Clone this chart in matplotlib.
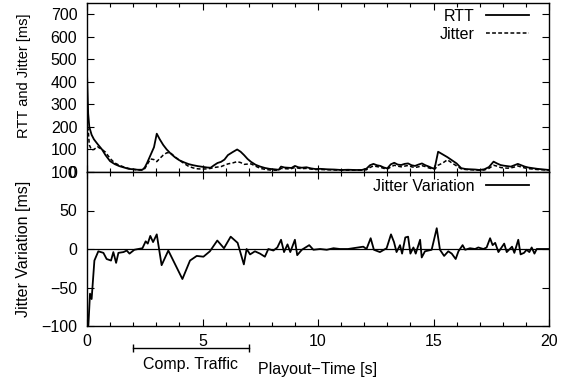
import matplotlib
matplotlib.use("Agg")
import matplotlib.pyplot as plt
from matplotlib.ticker import MultipleLocator
import matplotlib.transforms as mtransforms

plt.rcParams['font.family'] = ['Liberation Sans', 'DejaVu Sans']
plt.rcParams['font.size'] = 11.5
plt.rcParams['axes.unicode_minus'] = True

# ---------------- data ----------------
time_s = [0, 0.05, 0.1, 0.2, 0.3, 0.45, 0.65, 0.8, 1.0, 1.2, 1.4, 1.6, 1.8, 2.0, 2.2, 2.4,
          2.5, 2.6, 2.75, 2.9, 3.02, 3.15, 3.3, 3.45, 3.6, 3.8, 4.0, 4.2, 4.4, 4.6, 4.8,
          5.0, 5.2, 5.35, 5.5, 5.65, 5.8, 5.95, 6.1, 6.3, 6.5, 6.65, 6.8, 6.95, 7.1, 7.3,
          7.5, 7.7, 7.9, 8.1, 8.3, 8.4, 8.55, 8.7, 8.85, 9.0, 9.15, 9.3, 9.5, 9.7, 9.9,
          10.1, 10.4, 10.7, 11.0, 11.3, 11.6, 11.9, 12.1, 12.25, 12.4, 12.55, 12.7, 12.85,
          13.0, 13.15, 13.3, 13.45, 13.6, 13.75, 13.9, 14.05, 14.2, 14.35, 14.5, 14.65,
          14.8, 14.95, 15.05, 15.2, 15.4, 15.6, 15.8, 16.0, 16.2, 16.4, 16.6, 16.8, 17.0,
          17.2, 17.4, 17.6, 17.75, 17.9, 18.05, 18.2, 18.35, 18.5, 18.65, 18.8, 18.95,
          19.1, 19.3, 19.5, 19.7, 19.9, 20.0]

rtt_ms = [440, 260, 200, 165, 145, 125, 100, 75, 48, 35, 26, 20, 14, 12, 10, 10,
          20, 40, 75, 110, 170, 145, 120, 100, 84, 66, 52, 43, 35, 30, 26,
          23, 20, 19, 30, 40, 45, 55, 75, 88, 100, 90, 75, 58, 45, 32,
          24, 18, 14, 12, 10, 24, 20, 19, 18, 27, 21, 19, 21, 16, 13,
          14, 12, 11, 9, 10, 9, 9, 15, 30, 36, 30, 27, 20,
          16, 34, 41, 33, 31, 36, 38, 30, 27, 33, 38, 30,
          24, 17, 16, 90, 78, 66, 52, 38, 17, 13, 12, 11, 9,
          12, 22, 46, 38, 31, 28, 26, 24, 30, 36, 30, 24,
          20, 17, 14, 12, 10, 9]

jitter_ms = [200, 190, 120, 98, 100, 112, 100, 88, 60, 40, 30, 22, 16, 12, 9, 8,
             15, 32, 58, 55, 46, 60, 75, 85, 86, 68, 52, 38, 25, 18, 14,
             13, 14, 16, 20, 22, 24, 30, 36, 40, 46, 42, 34, 35, 36, 26,
             16, 12, 9, 8, 8, 16, 15, 14, 15, 20, 17, 15, 16, 13, 11,
             11, 10, 9, 8, 8, 8, 8, 10, 20, 27, 24, 21, 16,
             13, 22, 30, 26, 23, 26, 29, 23, 20, 23, 28, 24,
             18, 14, 12, 30, 40, 54, 40, 27, 14, 11, 10, 9, 8,
             9, 16, 30, 26, 20, 18, 17, 18, 22, 27, 22, 18,
             15, 13, 11, 10, 9, 8]

var_time_s = [0, 0.06, 0.13, 0.2, 0.32, 0.49, 0.71, 0.85, 1.04, 1.14, 1.26, 1.36, 1.58,
              1.72, 1.84, 2.05, 2.22, 2.4, 2.54, 2.63, 2.74, 2.86, 3.02, 3.23, 3.52,
              4.13, 4.46, 4.75, 5.04, 5.32, 5.64, 5.93, 6.22, 6.52, 6.79, 6.91, 7.06,
              7.27, 7.49, 7.7, 7.85, 8.07, 8.24, 8.4, 8.53, 8.68, 8.8, 9.0, 9.1, 9.3,
              9.62, 9.8, 10.09, 10.38, 10.67, 10.95, 11.3, 11.96, 12.1, 12.28, 12.42,
              12.68, 12.97, 13.16, 13.29, 13.4, 13.55, 13.64, 13.78, 13.9, 14.0, 14.13,
              14.23, 14.42, 14.49, 14.63, 14.92, 15.14, 15.28, 15.46, 15.64, 15.79,
              15.96, 16.08, 16.26, 16.37, 16.58, 16.8, 16.94, 17.16, 17.3, 17.45, 17.56,
              17.67, 17.81, 18.06, 18.17, 18.4, 18.5, 18.67, 18.77, 18.92, 19.03, 19.15,
              19.25, 19.37, 19.47, 19.69, 20.0]

var_ms = [-100, -99, -58, -65, -15, -3, -5, -13, -15, -4, -18, -5, -4,
          -2, -6, -1, 0, 1, 10, 7, 17, 9, 19, -21, -2,
          -39, -15, -9, -10, -3, 11, 1, 16, 8, -20, 0, -7,
          -3, -6, -10, 0, -2, 2, 12, -4, 6, -4, 12, -8, -1,
          5, -1, 0, -1, 1, 0, 0, 3, 0, 14, -1,
          -4, 1, 19, 9, -4, 5, -6, 15, 16, -6, 2,
          -6, 12, -11, -3, -1, 27, -1, -9, -3, -6,
          -13, -3, 5, -1, 1, 0, 2, 0, 2, 14, 5,
          8, -4, 7, -4, 3, -5, 12, -7, -5, -1, -4,
          2, -6, 0, 0, 0]

top_yticks = [0, 100, 200, 300, 400, 500, 600, 700]
bottom_yticks = [-100, -50, 0, 50, 100]
x_ticks = [0, 5, 10, 15, 20]
traffic_span = [2, 7]

# ---------------- figure ----------------
FS = 11.5
W, H = 571, 381
fig = plt.figure(figsize=(W / 100, H / 100), dpi=100)
left, right = 87 / W, 549 / W
ax1 = fig.add_axes([left, 1 - 172 / H, right - left, (172 - 3) / H])
ax2 = fig.add_axes([left, 1 - 326 / H, right - left, (326 - 172) / H])

lw = 1.3
ax1.plot(time_s, rtt_ms, color='black', lw=lw, label='RTT')
ax1.plot(time_s, jitter_ms, color='black', lw=1.1, ls=(0, (2.5, 1.5)), label='Jitter')
ax2.axhline(0, color='black', lw=0.9)
ax2.plot(var_time_s, var_ms, color='black', lw=lw, label='Jitter Variation')

for ax in (ax1, ax2):
    ax.set_xlim(0, 20)
    ax.xaxis.set_major_locator(MultipleLocator(5))
    ax.xaxis.set_minor_locator(MultipleLocator(1))
    ax.tick_params(which='both', direction='in', top=True, right=True, colors='black')
    ax.tick_params(which='major', length=5, width=0.8)
    ax.tick_params(which='minor', length=3, width=0.8)
    ax.tick_params(axis='y', pad=7.0, labelsize=FS)
    ax.tick_params(axis='x', pad=5.5, labelsize=FS)
    for s in ax.spines.values():
        s.set_linewidth(1.0)

ax1.set_ylim(0, 750)
ax1.set_yticks(top_yticks)
ax1.tick_params(axis='x', labelbottom=False)
ax2.set_ylim(-100, 100)
ax2.set_yticks(bottom_yticks)
ax2.set_xticks(x_ticks)

ax1.set_ylabel('RTT and Jitter [ms]', fontsize=10.5)
ax1.yaxis.set_label_coords(-0.122, 0.568)
ax2.set_ylabel('Jitter Variation [ms]', fontsize=FS)
ax2.yaxis.set_label_coords(-0.122, 0.5)
ax2.set_xlabel('Playout\u2212Time [s]', fontsize=FS)
ax2.xaxis.set_label_coords(0.5, -0.235)

fs_px = FS * 100 / 72
ax1.legend(loc='upper right', bbox_to_anchor=(0.9567, 0.966), frameon=False,
           markerfirst=False, handlelength=43 / fs_px, handletextpad=0.7,
           borderpad=0, borderaxespad=0, labelspacing=0.18, fontsize=FS)
ax2.legend(loc='upper right', bbox_to_anchor=(0.9567, 0.955), frameon=False,
           markerfirst=False, handlelength=43 / fs_px, handletextpad=0.7,
           borderpad=0, borderaxespad=0, fontsize=FS)

# Competing traffic span under the x axis
trans = mtransforms.blended_transform_factory(ax2.transData, ax2.transAxes)
ybar = -(348 - 326) / 154
ax2.plot(traffic_span, [ybar, ybar], color='black', lw=1.0, transform=trans,
         clip_on=False, marker='|', markersize=6, markeredgewidth=1.0)
ax2.text(sum(traffic_span) / 2, -(364 - 326) / 154, 'Comp. Traffic', transform=trans,
         ha='center', va='center', fontsize=FS)

fig.savefig('out.png', dpi=100)
